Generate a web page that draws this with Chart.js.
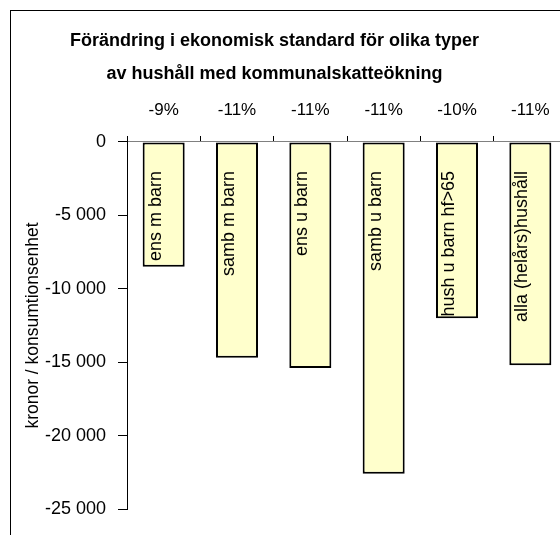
<!DOCTYPE html>
<html>
<head>
<meta charset="utf-8">
<script src="https://cdn.jsdelivr.net/npm/chart.js@4"></script>
<style>
  html, body { margin: 0; padding: 0; background: #fff; overflow: hidden; width: 560px; height: 535px; }
  #frame { position: absolute; left: 10px; top: 10px; width: 700px; height: 700px; border: 1px solid #000; }
  #c { position: absolute; left: -18px; top: 0; }
</style>
</head>
<body>
<div id="frame"></div>
<canvas id="c" width="585" height="535"></canvas>
<script>
const categories = ['ens m barn', 'samb m barn', 'ens u barn', 'samb u barn', 'hush u barn hf>65', 'alla (helårs)hushåll'];
const values = [-8500, -14700, -15400, -22600, -12000, -15200];
const percentLabels = ['-9%', '-11%', '-11%', '-11%', '-10%', '-11%'];
const titleLines = ['Förändring i ekonomisk standard för olika typer', 'av hushåll med kommunalskatteökning'];
const yAxisTitle = 'kronor / konsumtionsenhet';

const FONT = 'Liberation Sans, Arial, sans-serif';

function fmt(v) {
  const s = Math.abs(v).toString().replace(/\B(?=(\d{3})+(?!\d))/g, ' ');
  return (v < 0 ? '-' : '') + s;
}

const labelPlugin = {
  id: 'labelPlugin',
  afterDatasetsDraw(chart) {
    const ctx = chart.ctx;
    const meta = chart.getDatasetMeta(0);
    ctx.save();
    ctx.fillStyle = '#000';
    ctx.font = '18px ' + FONT;
    meta.data.forEach((bar, i) => {
      ctx.save();
      ctx.translate(bar.x - 8, 171);
      ctx.rotate(-Math.PI / 2);
      ctx.textAlign = 'right';
      ctx.textBaseline = 'middle';
      ctx.fillText(categories[i], 0, 0);
      ctx.restore();
    });
    ctx.restore();
  }
};

new Chart(document.getElementById('c'), {
  type: 'bar',
  data: {
    labels: categories,
    datasets: [{
      data: values,
      backgroundColor: '#FFFFCC',
      borderColor: '#000',
      borderWidth: 2,
      borderSkipped: false,
      barPercentage: 0.573,
      categoryPercentage: 1
    }]
  },
  options: {
    responsive: false,
    animation: false,
    devicePixelRatio: 1,
    layout: { padding: { left: 0, right: 0, top: 0, bottom: 26 } },
    plugins: {
      legend: { display: false },
      tooltip: { enabled: false },
      title: {
        display: true,
        text: titleLines,
        color: '#000',
        font: { family: FONT, size: 18, weight: 'bold', lineHeight: 1.8333 },
        padding: { top: 24.5, bottom: 0 }
      }
    },
    scales: {
      x: {
        position: 'top',
        offset: true,
        ticks: {
          display: true,
          color: '#000',
          padding: 15,
          maxRotation: 0,
          autoSkip: false,
          font: { family: FONT, size: 17, lineHeight: 1.2 },
          callback: (v, i) => percentLabels[i]
        },
        grid: { drawOnChartArea: false, drawTicks: true, tickLength: 6, color: '#000', offset: true },
        border: { display: true, color: '#808080', width: 1 },
        afterFit(scale) { scale.height = 51.5; }
      },
      y: {
        min: -25000,
        max: 0,
        ticks: {
          stepSize: 5000,
          color: '#000',
          padding: 12,
          font: { family: FONT, size: 18 },
          callback: (v) => fmt(v)
        },
        grid: { drawOnChartArea: false, drawTicks: true, tickLength: 9, color: '#000' },
        border: { display: true, color: '#000', width: 1 },
        title: {
          display: true,
          text: yAxisTitle,
          color: '#000',
          font: { family: FONT, size: 17.5, lineHeight: 1.2 },
          padding: { top: 40.5, bottom: 0 }
        },
        afterFit(scale) { scale.width = 145; }
      }
    }
  },
  plugins: [labelPlugin]
});
</script>
</body>
</html>
